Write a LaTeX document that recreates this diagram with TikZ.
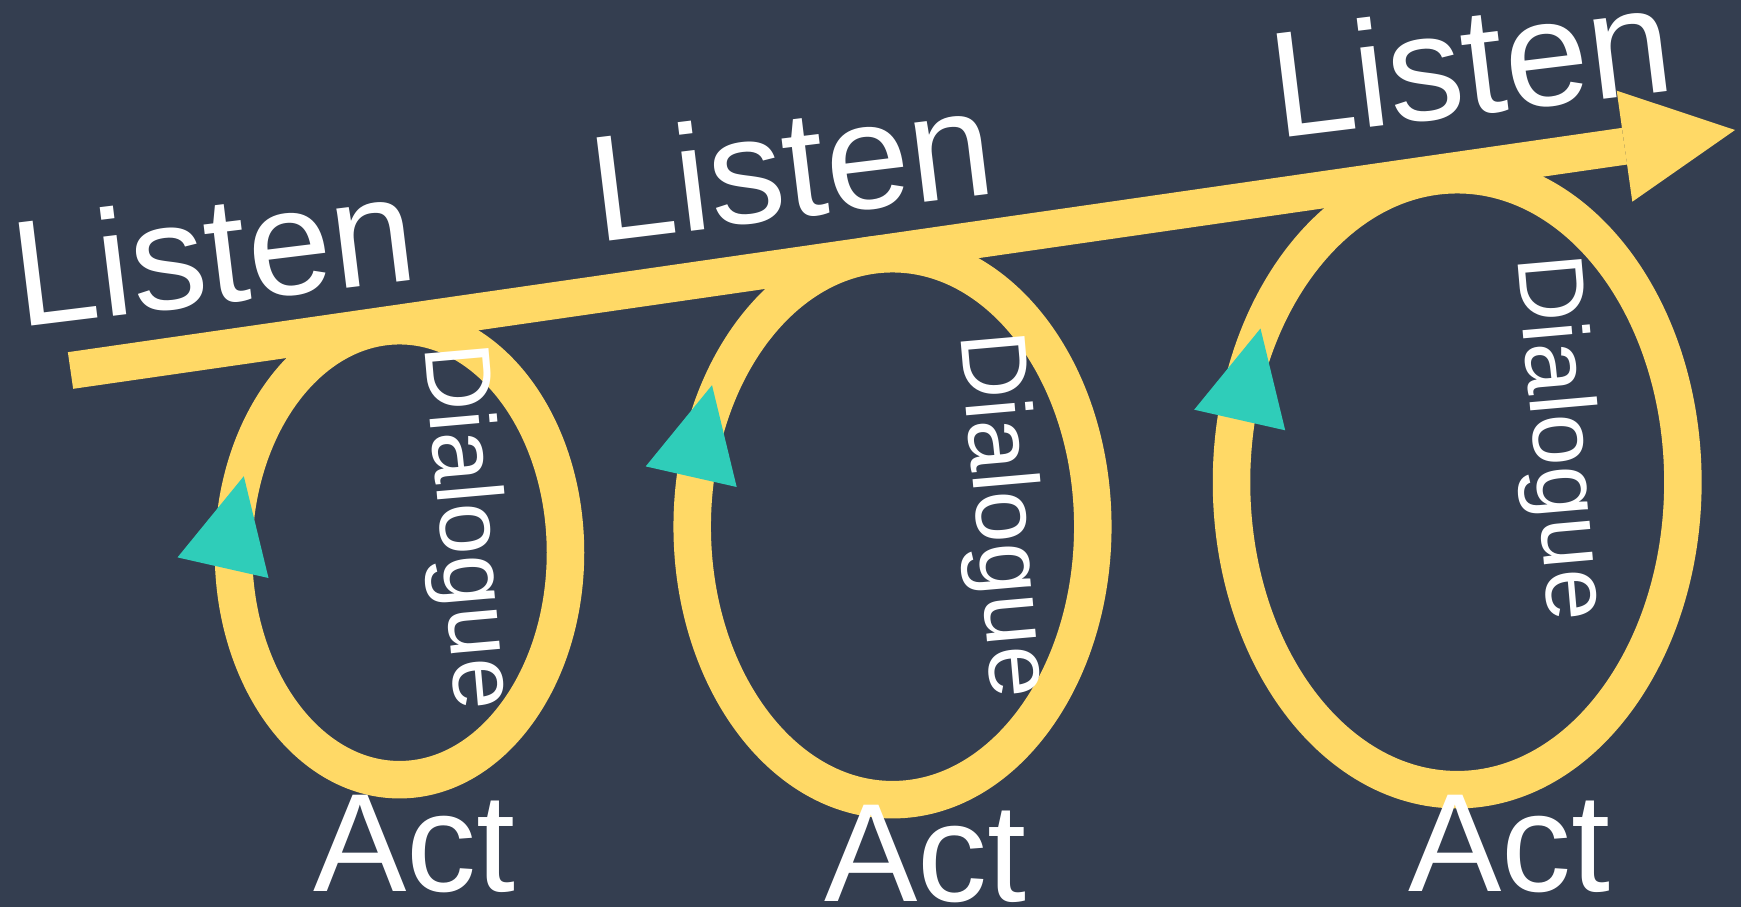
\documentclass[tikz,border=0pt]{standalone}
\usepackage{fontspec}
\setmainfont{Liberation Sans}
\definecolor{bgc}{HTML}{343E50}
\definecolor{yel}{HTML}{FFD966}
\definecolor{teal2}{HTML}{2FCDB9}
\tikzset{
  loopring/.style={draw=yel, line width=37.5pt},
  shaft/.style={draw=yel, line width=37pt, line cap=butt},
  headtri/.style={fill=yel},
  tealtri/.style={fill=teal2},
  listenlbl/.style={text=white, inner sep=0pt, anchor=base west, rotate=7, font=\fontsize{151}{151}\selectfont},
  actlbl/.style={text=white, inner sep=0pt, anchor=base west, font=\fontsize{140}{140}\selectfont},
  diallbl/.style={text=white, inner sep=0pt, anchor=center, rotate=-85, font=\fontsize{93}{93}\selectfont}
}
\begin{document}
\begin{tikzpicture}[x=1pt,y=-1pt]
\fill[bgc] (0,0) rectangle (1741,907);
\useasboundingbox (0,0) rectangle (1741,907);
% loops
\coordinate (c1) at (399.5,552.7);
\coordinate (c2) at (892.5,526.7);
\coordinate (c3) at (1457.2,482.2);
\draw[loopring] (c1) ellipse [x radius=166pt, y radius=227pt];
\draw[loopring] (c2) ellipse [x radius=200.3pt, y radius=273pt];
\draw[loopring] (c3) ellipse [x radius=225.7pt, y radius=307.5pt];
% main arrow
\coordinate (s) at (70.5,370.5);
\coordinate (b) at (1624.5,146.2);
\coordinate (h1) at (1616.7,90.7);
\coordinate (h2) at (1632.3,201.7);
\coordinate (tip) at (1735,130);
\draw[shaft] (s) -- (b);
\fill[headtri] (h1) -- (tip) -- (h2) -- cycle;
% teal arrowheads
\coordinate (t1) at (243.8,476.2);
\coordinate (t2) at (712,385.2);
\coordinate (t3) at (1260.5,328.5);
\foreach \t in {t1,t2,t3}{
  \fill[tealtri] (\t) -- ++(-66.3,81.2) -- ++(91,20.6) -- cycle;
}
% labels
\node[listenlbl] (l1) at (19.8,328) {Listen};
\node[listenlbl] (l2) at (597.6,242.3) {Listen};
\node[listenlbl] (l3) at (1277,139) {Listen};
\node[diallbl] (d1) at (464,527) {Dialogue};
\node[diallbl] (d2) at (1000,515) {Dialogue};
\node[diallbl] (d3) at (1557,438) {Dialogue};
\node[actlbl] (a1) at (313,891.7) {Act};
\node[actlbl] (a2) at (824,901.7) {Act};
\node[actlbl] (a3) at (1408,891.7) {Act};
\end{tikzpicture}
\end{document}
